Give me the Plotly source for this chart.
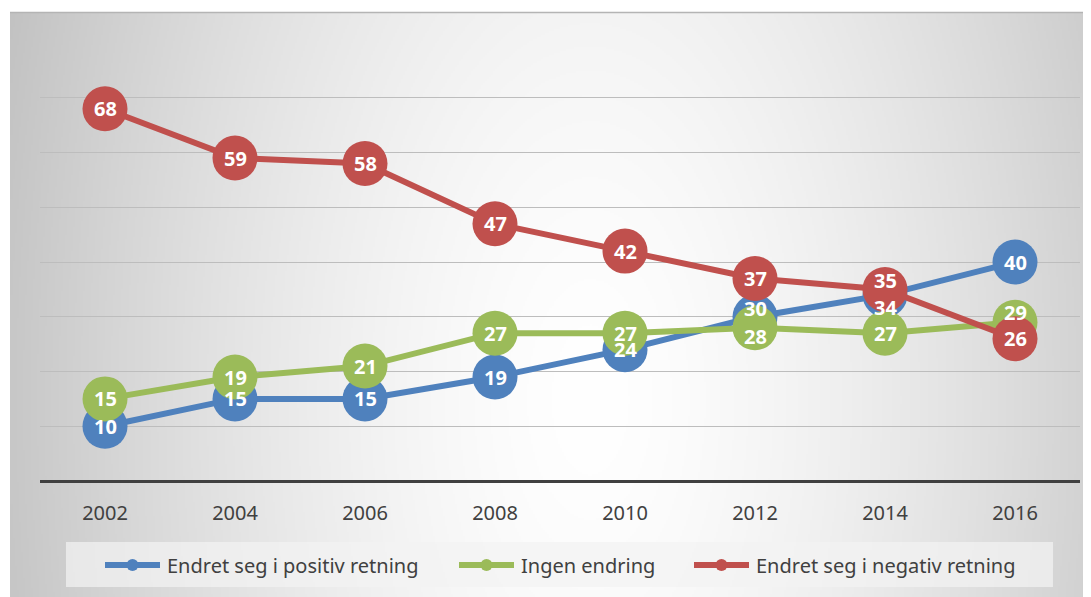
import base64, struct, zlib
import numpy as np
import plotly.graph_objects as go

# ---------------- data ----------------
years = ["2002", "2004", "2006", "2008", "2010", "2012", "2014", "2016"]
positiv = [10, 15, 15, 19, 24, 30, 34, 40]
ingen = [15, 19, 21, 27, 27, 28, 27, 29]
negativ = [68, 59, 58, 47, 42, 37, 35, 26]
names = ["Endret seg i positiv retning", "Ingen endring", "Endret seg i negativ retning"]

# ---------------- style ----------------
colors = ["#4F81BD", "#9BBB59", "#C0504D"]
# label vertical nudges (px, up positive) for crowded points: (series index, point index) -> shift
label_shift = {(0, 5): 8, (1, 5): -9, (2, 6): 9, (0, 6): -13, (1, 7): 10}
legend_left_px = [105, 459, 694]   # left end of each legend key line (page px)
LEG_Y = 565
KEY_LEN = 55

OFF = 8  # page body margin
W, H = 1091 - OFF, 597 - OFF
L, R, T, B = 40 - OFF, 11, 43 - OFF, 116
plot_w = W - L - R
plot_h = H - T - B


def px_x(p):
    return (p - OFF - L) / plot_w


def px_y(p):
    return (H - B - (p - OFF)) / plot_h


# radial grey background as PNG
def make_png(arr):
    h, w = arr.shape
    raw = b"".join(b"\x00" + arr[i].tobytes() for i in range(h))

    def chunk(tag, data):
        c = tag + data
        return struct.pack(">I", len(data)) + c + struct.pack(">I", zlib.crc32(c) & 0xFFFFFFFF)

    ihdr = struct.pack(">IIBBBBB", w, h, 8, 0, 0, 0, 0)
    return b"\x89PNG\r\n\x1a\n" + chunk(b"IHDR", ihdr) + chunk(b"IDAT", zlib.compress(raw, 9)) + chunk(b"IEND", b"")


bx0, by0, bx1, by1 = 10, 12, 1091, 597
iw, ih = 540, 292
xs = np.linspace(bx0, bx1, iw)
ys = np.linspace(by0, by1, ih)
X, Y = np.meshgrid(xs, ys)
cx, cy = 590, 400
r = np.sqrt(((X - cx) / 650.0) ** 2 + ((Y - cy) / 1250.0) ** 2)
val = 255 - 66 * np.clip(r, 0, 1.05) ** 1.5
img = np.clip(val, 0, 255).astype(np.uint8)
bg_uri = "data:image/png;base64," + base64.b64encode(make_png(img)).decode()

fig = go.Figure()
for i, (vals, nm) in enumerate(zip([positiv, ingen, negativ], names)):
    fig.add_trace(go.Scatter(
        x=years, y=vals, name=nm, mode="lines+markers",
        line=dict(color=colors[i], width=6),
        marker=dict(color=colors[i], size=45, line=dict(width=0)),
        cliponaxis=False, hoverinfo="skip", showlegend=False,
    ))

annotations = []
for i, vals in enumerate([positiv, ingen, negativ]):
    for j, v in enumerate(vals):
        annotations.append(dict(
            x=j, y=v, xref="x", yref="y", text="<b>%d</b>" % v, showarrow=False,
            yshift=label_shift.get((i, j), 0),
            font=dict(family="Noto Sans", size=20, color="#ffffff"),
        ))

shapes = [
    dict(type="rect", xref="paper", yref="paper", layer="below",
         x0=px_x(66), x1=px_x(1053), y0=px_y(587), y1=px_y(542),
         fillcolor="rgba(242,242,242,0.72)", line=dict(width=0)),
    dict(type="line", xref="paper", yref="paper", layer="below",
         x0=px_x(10), x1=px_x(1091), y0=px_y(12.5), y1=px_y(12.5),
         line=dict(color="#b4b4b4", width=1.5)),
]

# legend (key line + dot + text)
for i, nm in enumerate(names):
    x0 = legend_left_px[i]
    x1 = x0 + KEY_LEN
    xm = (x0 + x1) / 2
    shapes.append(dict(type="line", xref="paper", yref="paper",
                       x0=px_x(x0), x1=px_x(x1), y0=px_y(LEG_Y), y1=px_y(LEG_Y),
                       line=dict(color=colors[i], width=6)))
    shapes.append(dict(type="circle", xref="paper", yref="paper",
                       x0=px_x(xm - 6), x1=px_x(xm + 6), y0=px_y(LEG_Y + 6), y1=px_y(LEG_Y - 6),
                       fillcolor=colors[i], line=dict(width=0)))
    annotations.append(dict(x=px_x(x1 + 5), y=px_y(LEG_Y), xref="paper", yref="paper",
                            xanchor="left", yanchor="middle", text=nm, showarrow=False,
                            font=dict(family="Noto Sans", size=20, color="#404040")))

fig.update_layout(
    width=W, height=H,
    margin=dict(l=L, r=R, t=T, b=B, pad=0),
    paper_bgcolor="white", plot_bgcolor="rgba(0,0,0,0)",
    font=dict(family="Noto Sans", color="#404040"),
    showlegend=False,
    images=[dict(source=bg_uri, xref="paper", yref="paper",
                 x=px_x(bx0), y=px_y(by0), sizex=px_x(bx1) - px_x(bx0), sizey=px_y(by0) - px_y(by1),
                 xanchor="left", yanchor="top", sizing="stretch", layer="below")],
    shapes=shapes,
    annotations=annotations,
    xaxis=dict(type="category", range=[-0.5, 7.5], showgrid=False, zeroline=False,
               showline=False, ticks="outside", ticklen=14, tickcolor="rgba(0,0,0,0)",
               tickfont=dict(size=20, color="#404040"), fixedrange=True),
    yaxis=dict(range=[0, 80.02], dtick=10, showticklabels=False, showgrid=True,
               gridcolor="#bdbdbd", gridwidth=1.3, zeroline=True, zerolinecolor="#404040",
               zerolinewidth=3, showline=False, fixedrange=True),
)

fig.write_html("out.html")
